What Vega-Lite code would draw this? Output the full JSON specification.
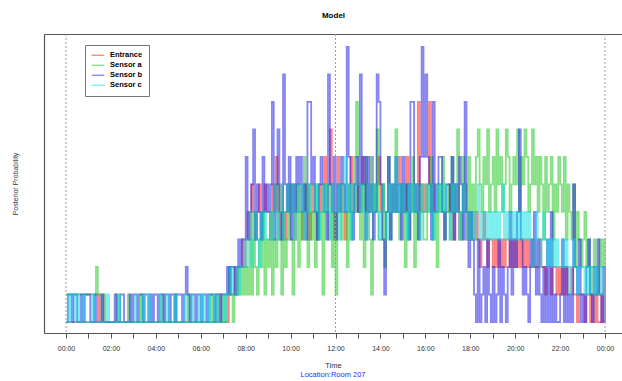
{
  "$schema": "https://vega.github.io/schema/vega-lite/v6.json",
  "width": 578,
  "height": 299,
  "autosize": "none",
  "padding": {"left": 44, "top": 34, "right": 0, "bottom": 48},
  "background": "white",
  "config": {"view": {"stroke": null}, "font": "Liberation Sans"},
  "title": {"text": "Location:Room 207", "orient": "bottom", "color": "#2a2aff", "fontSize": 7.5, "fontWeight": "normal", "offset": 2},
  "data": {"values": [
    {"t":0,"e":0,"a":1,"b":0,"c":0},{"t":5,"e":0,"a":1,"b":1,"c":1},{"t":10,"e":0,"a":1,"b":1,"c":0},{"t":15,"e":0,"a":1,"b":0,"c":1},
    {"t":20,"e":0,"a":1,"b":1,"c":1},{"t":25,"e":0,"a":1,"b":1,"c":0},{"t":30,"e":0,"a":1,"b":0,"c":1},{"t":35,"e":0,"a":1,"b":0,"c":0},
    {"t":40,"e":0,"a":1,"b":1,"c":0},{"t":45,"e":0,"a":1,"b":0,"c":1},{"t":50,"e":0,"a":1,"b":1,"c":0},{"t":55,"e":0,"a":1,"b":1,"c":0},
    {"t":60,"e":0,"a":1,"b":1,"c":0},{"t":65,"e":0,"a":1,"b":0,"c":0},{"t":70,"e":0,"a":1,"b":0,"c":1},{"t":75,"e":0,"a":1,"b":1,"c":0},
    {"t":80,"e":0,"a":2,"b":0,"c":0},{"t":85,"e":1,"a":1,"b":0,"c":0},{"t":90,"e":0,"a":1,"b":0,"c":0},{"t":95,"e":0,"a":0,"b":1,"c":0},
    {"t":100,"e":0,"a":1,"b":0,"c":0},{"t":105,"e":0,"a":0,"b":0,"c":0},{"t":110,"e":0,"a":0,"b":0,"c":1},{"t":115,"e":0,"a":0,"b":0,"c":0},
    {"t":120,"e":0,"a":0,"b":0,"c":0},{"t":125,"e":0,"a":0,"b":0,"c":0},{"t":130,"e":0,"a":0,"b":1,"c":0},{"t":135,"e":0,"a":1,"b":0,"c":0},
    {"t":140,"e":0,"a":0,"b":0,"c":1},{"t":145,"e":0,"a":0,"b":1,"c":0},{"t":150,"e":0,"a":0,"b":1,"c":0},{"t":155,"e":0,"a":0,"b":0,"c":0},
    {"t":160,"e":0,"a":0,"b":0,"c":0},{"t":165,"e":0,"a":1,"b":0,"c":0},{"t":170,"e":0,"a":0,"b":1,"c":0},{"t":175,"e":0,"a":0,"b":0,"c":0},
    {"t":180,"e":0,"a":0,"b":1,"c":0},{"t":185,"e":0,"a":0,"b":1,"c":1},{"t":190,"e":0,"a":0,"b":0,"c":0},{"t":195,"e":0,"a":0,"b":1,"c":0},
    {"t":200,"e":0,"a":1,"b":1,"c":0},{"t":205,"e":0,"a":0,"b":0,"c":1},{"t":210,"e":0,"a":0,"b":1,"c":0},{"t":215,"e":0,"a":0,"b":1,"c":0},
    {"t":220,"e":0,"a":0,"b":0,"c":1},{"t":225,"e":0,"a":0,"b":1,"c":0},{"t":230,"e":0,"a":0,"b":0,"c":0},{"t":235,"e":0,"a":0,"b":1,"c":0},
    {"t":240,"e":0,"a":0,"b":1,"c":0},{"t":245,"e":0,"a":0,"b":0,"c":0},{"t":250,"e":0,"a":0,"b":1,"c":1},{"t":255,"e":0,"a":1,"b":1,"c":0},
    {"t":260,"e":0,"a":0,"b":0,"c":0},{"t":265,"e":0,"a":0,"b":1,"c":0},{"t":270,"e":0,"a":0,"b":1,"c":1},{"t":275,"e":0,"a":0,"b":0,"c":0},
    {"t":280,"e":0,"a":0,"b":1,"c":0},{"t":285,"e":0,"a":0,"b":1,"c":0},{"t":290,"e":0,"a":1,"b":0,"c":1},{"t":295,"e":0,"a":0,"b":1,"c":0},
    {"t":300,"e":0,"a":0,"b":1,"c":0},{"t":305,"e":0,"a":0,"b":1,"c":0},{"t":310,"e":0,"a":0,"b":0,"c":0},{"t":315,"e":0,"a":0,"b":1,"c":1},
    {"t":320,"e":0,"a":0,"b":2,"c":0},{"t":325,"e":0,"a":1,"b":1,"c":0},{"t":330,"e":0,"a":0,"b":0,"c":0},{"t":335,"e":0,"a":0,"b":1,"c":1},
    {"t":340,"e":0,"a":0,"b":1,"c":0},{"t":345,"e":0,"a":0,"b":0,"c":0},{"t":350,"e":0,"a":0,"b":1,"c":0},{"t":355,"e":0,"a":0,"b":1,"c":1},
    {"t":360,"e":0,"a":0,"b":0,"c":0},{"t":365,"e":0,"a":0,"b":1,"c":1},{"t":370,"e":0,"a":0,"b":1,"c":0},{"t":375,"e":0,"a":0,"b":0,"c":0},
    {"t":380,"e":0,"a":0,"b":1,"c":1},{"t":385,"e":0,"a":1,"b":1,"c":0},{"t":390,"e":0,"a":0,"b":1,"c":0},{"t":395,"e":0,"a":0,"b":0,"c":1},
    {"t":400,"e":0,"a":1,"b":1,"c":0},{"t":405,"e":0,"a":0,"b":1,"c":1},{"t":410,"e":1,"a":0,"b":0,"c":0},{"t":415,"e":0,"a":0,"b":1,"c":0},
    {"t":420,"e":0,"a":1,"b":1,"c":1},{"t":425,"e":0,"a":0,"b":1,"c":0},{"t":430,"e":0,"a":1,"b":2,"c":1},{"t":435,"e":1,"a":2,"b":1,"c":1},
    {"t":440,"e":1,"a":1,"b":2,"c":2},{"t":445,"e":1,"a":0,"b":2,"c":1},{"t":450,"e":2,"a":1,"b":1,"c":1},{"t":455,"e":1,"a":1,"b":2,"c":2},
    {"t":460,"e":2,"a":2,"b":3,"c":1},{"t":465,"e":2,"a":1,"b":2,"c":2},{"t":470,"e":3,"a":2,"b":3,"c":2},{"t":475,"e":2,"a":1,"b":3,"c":3},
    {"t":480,"e":3,"a":2,"b":6,"c":2},{"t":485,"e":4,"a":1,"b":3,"c":3},{"t":490,"e":3,"a":3,"b":4,"c":4},{"t":495,"e":5,"a":1,"b":5,"c":2},
    {"t":500,"e":4,"a":4,"b":7,"c":3},{"t":505,"e":3,"a":2,"b":3,"c":4},{"t":510,"e":4,"a":1,"b":5,"c":3},{"t":515,"e":5,"a":3,"b":4,"c":2},
    {"t":520,"e":3,"a":2,"b":3,"c":4},{"t":525,"e":4,"a":4,"b":6,"c":3},{"t":530,"e":5,"a":1,"b":4,"c":4},{"t":535,"e":4,"a":3,"b":5,"c":3},
    {"t":540,"e":4,"a":2,"b":4,"c":3},{"t":545,"e":3,"a":4,"b":5,"c":4},{"t":550,"e":5,"a":1,"b":8,"c":3},{"t":555,"e":4,"a":3,"b":3,"c":5},
    {"t":560,"e":6,"a":2,"b":5,"c":4},{"t":565,"e":4,"a":5,"b":7,"c":3},{"t":570,"e":3,"a":3,"b":4,"c":4},{"t":575,"e":5,"a":1,"b":3,"c":5},
    {"t":580,"e":4,"a":4,"b":9,"c":3},{"t":585,"e":3,"a":2,"b":5,"c":4},{"t":590,"e":5,"a":3,"b":4,"c":5},{"t":595,"e":4,"a":5,"b":6,"c":4},
    {"t":600,"e":4,"a":3,"b":3,"c":4},{"t":605,"e":5,"a":1,"b":5,"c":5},{"t":610,"e":3,"a":4,"b":4,"c":3},{"t":615,"e":4,"a":5,"b":6,"c":4},
    {"t":620,"e":5,"a":2,"b":5,"c":5},{"t":625,"e":4,"a":4,"b":6,"c":4},{"t":630,"e":3,"a":3,"b":4,"c":5},{"t":635,"e":5,"a":6,"b":5,"c":3},
    {"t":640,"e":4,"a":4,"b":3,"c":4},{"t":645,"e":5,"a":2,"b":8,"c":5},{"t":650,"e":3,"a":5,"b":8,"c":4},{"t":655,"e":4,"a":3,"b":5,"c":5},
    {"t":660,"e":5,"a":4,"b":6,"c":5},{"t":665,"e":4,"a":2,"b":4,"c":4},{"t":670,"e":3,"a":5,"b":3,"c":5},{"t":675,"e":5,"a":3,"b":5,"c":3},
    {"t":680,"e":4,"a":4,"b":6,"c":4},{"t":685,"e":5,"a":1,"b":5,"c":5},{"t":690,"e":6,"a":5,"b":4,"c":4},{"t":695,"e":4,"a":4,"b":3,"c":5},
    {"t":700,"e":5,"a":3,"b":9,"c":4},{"t":705,"e":7,"a":5,"b":5,"c":3},{"t":710,"e":5,"a":2,"b":4,"c":5},{"t":715,"e":3,"a":4,"b":6,"c":4},
    {"t":720,"e":4,"a":1,"b":3,"c":4},{"t":725,"e":6,"a":4,"b":5,"c":5},{"t":730,"e":5,"a":5,"b":4,"c":3},{"t":735,"e":4,"a":3,"b":6,"c":5},
    {"t":740,"e":5,"a":4,"b":5,"c":4},{"t":745,"e":3,"a":4,"b":4,"c":6},{"t":750,"e":4,"a":2,"b":10,"c":4},{"t":755,"e":5,"a":5,"b":6,"c":5},
    {"t":760,"e":6,"a":3,"b":4,"c":3},{"t":765,"e":4,"a":4,"b":3,"c":5},{"t":770,"e":5,"a":6,"b":5,"c":4},{"t":775,"e":4,"a":8,"b":6,"c":5},
    {"t":780,"e":5,"a":4,"b":4,"c":5},{"t":785,"e":4,"a":3,"b":9,"c":4},{"t":790,"e":6,"a":5,"b":5,"c":5},{"t":795,"e":5,"a":2,"b":6,"c":4},
    {"t":800,"e":4,"a":6,"b":3,"c":3},{"t":805,"e":5,"a":4,"b":6,"c":5},{"t":810,"e":4,"a":3,"b":4,"c":4},{"t":815,"e":6,"a":1,"b":5,"c":6},
    {"t":820,"e":5,"a":5,"b":3,"c":4},{"t":825,"e":4,"a":4,"b":4,"c":5},{"t":830,"e":5,"a":7,"b":9,"c":4},{"t":835,"e":6,"a":3,"b":8,"c":3},
    {"t":840,"e":4,"a":3,"b":5,"c":4},{"t":845,"e":5,"a":5,"b":3,"c":5},{"t":850,"e":4,"a":2,"b":1,"c":4},{"t":855,"e":4,"a":4,"b":4,"c":3},
    {"t":860,"e":5,"a":6,"b":6,"c":5},{"t":865,"e":5,"a":3,"b":3,"c":4},{"t":870,"e":4,"a":4,"b":5,"c":5},{"t":875,"e":5,"a":5,"b":4,"c":4},
    {"t":880,"e":4,"a":7,"b":6,"c":6},{"t":885,"e":5,"a":4,"b":4,"c":4},{"t":890,"e":6,"a":3,"b":5,"c":5},{"t":895,"e":4,"a":5,"b":3,"c":4},
    {"t":900,"e":5,"a":4,"b":6,"c":5},{"t":905,"e":4,"a":2,"b":4,"c":4},{"t":910,"e":6,"a":5,"b":5,"c":3},{"t":915,"e":5,"a":3,"b":3,"c":5},
    {"t":920,"e":4,"a":4,"b":8,"c":4},{"t":925,"e":5,"a":6,"b":8,"c":5},{"t":930,"e":5,"a":2,"b":4,"c":4},{"t":935,"e":4,"a":4,"b":5,"c":5},
    {"t":940,"e":8,"a":3,"b":3,"c":4},{"t":945,"e":5,"a":5,"b":6,"c":3},{"t":950,"e":4,"a":4,"b":10,"c":5},{"t":955,"e":5,"a":3,"b":6,"c":4},
    {"t":960,"e":4,"a":3,"b":9,"c":4},{"t":965,"e":5,"a":5,"b":6,"c":5},{"t":970,"e":8,"a":4,"b":5,"c":4},{"t":975,"e":4,"a":6,"b":3,"c":5},
    {"t":980,"e":5,"a":3,"b":8,"c":3},{"t":985,"e":4,"a":4,"b":4,"c":4},{"t":990,"e":4,"a":2,"b":5,"c":5},{"t":995,"e":5,"a":5,"b":6,"c":4},
    {"t":1000,"e":5,"a":4,"b":6,"c":5},{"t":1005,"e":4,"a":6,"b":4,"c":4},{"t":1010,"e":4,"a":3,"b":3,"c":5},{"t":1015,"e":4,"a":4,"b":5,"c":4},
    {"t":1020,"e":4,"a":5,"b":5,"c":4},{"t":1025,"e":5,"a":3,"b":4,"c":3},{"t":1030,"e":4,"a":6,"b":6,"c":5},{"t":1035,"e":3,"a":4,"b":3,"c":4},
    {"t":1040,"e":5,"a":5,"b":5,"c":5},{"t":1045,"e":4,"a":7,"b":4,"c":4},{"t":1050,"e":3,"a":4,"b":6,"c":3},{"t":1055,"e":4,"a":3,"b":5,"c":4},
    {"t":1060,"e":5,"a":6,"b":3,"c":5},{"t":1065,"e":4,"a":5,"b":8,"c":4},{"t":1070,"e":3,"a":4,"b":4,"c":3},{"t":1075,"e":4,"a":6,"b":2,"c":4},
    {"t":1080,"e":3,"a":3,"b":4,"c":3},{"t":1085,"e":4,"a":5,"b":3,"c":4},{"t":1090,"e":3,"a":4,"b":1,"c":3},{"t":1095,"e":4,"a":6,"b":0,"c":4},
    {"t":1100,"e":3,"a":7,"b":3,"c":5},{"t":1105,"e":2,"a":5,"b":0,"c":3},{"t":1110,"e":3,"a":4,"b":1,"c":4},{"t":1115,"e":4,"a":6,"b":2,"c":3},
    {"t":1120,"e":3,"a":5,"b":0,"c":4},{"t":1125,"e":2,"a":7,"b":3,"c":3},{"t":1130,"e":3,"a":4,"b":1,"c":4},{"t":1135,"e":3,"a":5,"b":0,"c":3},
    {"t":1140,"e":2,"a":6,"b":2,"c":4},{"t":1145,"e":3,"a":4,"b":0,"c":3},{"t":1150,"e":2,"a":7,"b":1,"c":4},{"t":1155,"e":3,"a":5,"b":3,"c":3},
    {"t":1160,"e":2,"a":6,"b":0,"c":4},{"t":1165,"e":3,"a":4,"b":2,"c":5},{"t":1170,"e":2,"a":5,"b":1,"c":3},{"t":1175,"e":3,"a":7,"b":0,"c":4},
    {"t":1180,"e":3,"a":6,"b":2,"c":3},{"t":1185,"e":2,"a":4,"b":4,"c":4},{"t":1190,"e":3,"a":5,"b":1,"c":3},{"t":1195,"e":2,"a":6,"b":3,"c":4},
    {"t":1200,"e":3,"a":5,"b":2,"c":3},{"t":1205,"e":2,"a":7,"b":4,"c":4},{"t":1210,"e":3,"a":4,"b":7,"c":3},{"t":1215,"e":2,"a":6,"b":3,"c":4},
    {"t":1220,"e":3,"a":5,"b":1,"c":3},{"t":1225,"e":2,"a":7,"b":2,"c":4},{"t":1230,"e":3,"a":6,"b":1,"c":3},{"t":1235,"e":2,"a":4,"b":0,"c":4},
    {"t":1240,"e":2,"a":5,"b":3,"c":3},{"t":1245,"e":3,"a":7,"b":2,"c":2},{"t":1250,"e":2,"a":5,"b":4,"c":3},{"t":1255,"e":2,"a":6,"b":1,"c":4},
    {"t":1260,"e":2,"a":4,"b":3,"c":3},{"t":1265,"e":3,"a":6,"b":1,"c":2},{"t":1270,"e":2,"a":5,"b":0,"c":3},{"t":1275,"e":2,"a":3,"b":2,"c":4},
    {"t":1280,"e":1,"a":6,"b":0,"c":3},{"t":1285,"e":2,"a":4,"b":3,"c":2},{"t":1290,"e":2,"a":5,"b":0,"c":3},{"t":1295,"e":1,"a":6,"b":4,"c":2},
    {"t":1300,"e":2,"a":3,"b":0,"c":3},{"t":1305,"e":2,"a":5,"b":1,"c":2},{"t":1310,"e":1,"a":4,"b":0,"c":3},{"t":1315,"e":2,"a":6,"b":0,"c":2},
    {"t":1320,"e":1,"a":5,"b":1,"c":2},{"t":1325,"e":2,"a":4,"b":3,"c":3},{"t":1330,"e":1,"a":6,"b":0,"c":2},{"t":1335,"e":2,"a":3,"b":2,"c":3},
    {"t":1340,"e":1,"a":5,"b":0,"c":2},{"t":1345,"e":1,"a":4,"b":1,"c":1},{"t":1350,"e":2,"a":3,"b":0,"c":2},{"t":1355,"e":1,"a":5,"b":5,"c":3},
    {"t":1360,"e":1,"a":2,"b":2,"c":2},{"t":1365,"e":0,"a":4,"b":1,"c":1},{"t":1370,"e":1,"a":3,"b":3,"c":2},{"t":1375,"e":1,"a":2,"b":0,"c":2},
    {"t":1380,"e":1,"a":3,"b":1,"c":2},{"t":1385,"e":0,"a":4,"b":0,"c":1},{"t":1390,"e":1,"a":2,"b":2,"c":2},{"t":1395,"e":1,"a":3,"b":3,"c":1},
    {"t":1400,"e":0,"a":1,"b":1,"c":2},{"t":1405,"e":1,"a":2,"b":0,"c":2},{"t":1410,"e":0,"a":3,"b":2,"c":1},{"t":1415,"e":1,"a":2,"b":1,"c":2},
    {"t":1420,"e":0,"a":1,"b":3,"c":1},{"t":1425,"e":0,"a":3,"b":1,"c":1},{"t":1430,"e":1,"a":2,"b":0,"c":2},{"t":1435,"e":0,"a":3,"b":2,"c":1},
    {"t":1440,"e":0,"a":2,"b":0,"c":1}
  ]},
  "layer": [
    {
      "transform": [{"fold": ["e", "a", "b", "c"], "as": ["sensor", "p"]}],
      "mark": {"type": "line", "interpolate": "step-after", "strokeWidth": 1.8, "opacity": 0.55, "clip": true},
      "encoding": {
        "x": {
          "field": "t", "type": "quantitative",
          "scale": {"domain": [-58.8, 1485.4], "nice": false, "zero": false},
          "axis": {
            "orient": "bottom",
            "values": [0,60,120,180,240,300,360,420,480,540,600,660,720,780,840,900,960,1020,1080,1140,1200,1260,1320,1380,1440],
            "labelExpr": "datum.value % 120 == 0 ? ((datum.value / 60) % 24 < 10 ? '0' : '') + ((datum.value / 60) % 24) + ':00' : ''",
            "labelOverlap": false, "labelFlush": false,
            "tickSize": 5, "tickColor": "#555", "domainColor": "#555", "domainWidth": 1.2,
            "labelPadding": 6, "labelFontSize": 7, "labelColor": "#333",
            "grid": false,
            "title": "Time", "titleFontSize": 7.5, "titleFontWeight": "normal", "titleColor": "#333", "titlePadding": 10
          }
        },
        "y": {
          "field": "p", "type": "quantitative",
          "scale": {"domain": [-0.4, 10.47], "nice": false, "zero": false},
          "axis": {
            "labels": false, "ticks": false, "grid": false,
            "domainColor": "#555", "domainWidth": 1.2,
            "title": "Posterior Probability", "titleFontSize": 7, "titleFontWeight": "normal", "titleColor": "#333", "titlePadding": 26
          }
        },
        "color": {
          "field": "sensor", "type": "nominal",
          "scale": {"domain": ["e", "a", "b", "c"], "range": ["#ff1a1a", "#22c922", "#1f1fe8", "#10dede"]},
          "legend": {
            "orient": "none", "legendX": 41, "legendY": 11,
            "title": null,
            "labelExpr": "datum.label == 'e' ? 'Entrance' : datum.label == 'a' ? 'Sensor a' : datum.label == 'b' ? 'Sensor b' : 'Sensor c'",
            "symbolType": "stroke", "symbolStrokeWidth": 1.2, "symbolSize": 160, "symbolOpacity": 0.6,
            "labelFontSize": 7.5, "labelFontWeight": "bold", "labelColor": "#000", "labelOffset": 5,
            "strokeColor": "#777", "fillColor": "white", "padding": 6, "rowPadding": 1, "clipHeight": 8.5
          }
        }
      }
    },
    {
      "data": {"values": [{"t": 0}, {"t": 720}, {"t": 1440}]},
      "mark": {"type": "rule", "strokeDash": [2, 2], "color": "#999", "strokeWidth": 1},
      "encoding": {
        "x": {
          "field": "t", "type": "quantitative",
          "axis": {
            "orient": "top", "labels": false, "ticks": false, "grid": false,
            "domainColor": "#555", "domainWidth": 1.2,
            "title": "Model", "titleFontSize": 8, "titleFontWeight": "bold", "titleColor": "#000", "titlePadding": 15
          }
        }
      }
    }
  ],
  "resolve": {"axis": {"x": "independent"}}
}
